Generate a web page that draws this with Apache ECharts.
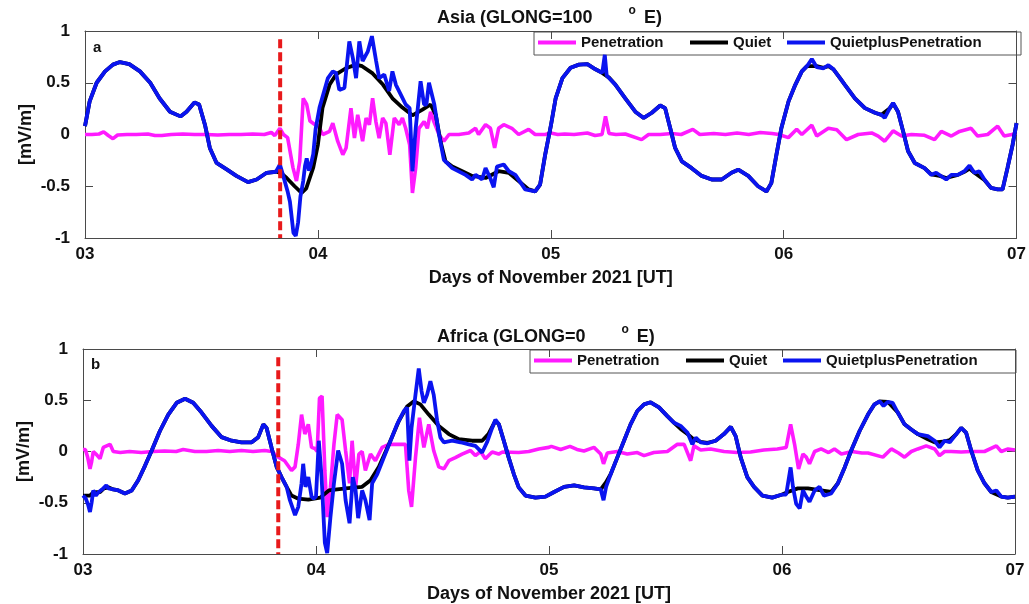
<!DOCTYPE html>
<html>
<head>
<meta charset="utf-8">
<script src="https://cdn.jsdelivr.net/npm/echarts@6/dist/echarts.min.js"></script>
<style>
html,body{margin:0;padding:0;background:#fff;}
#chart{width:1029px;height:604px;}
</style>
</head>
<body>
<div id="chart"></div>
<script>
// ---------------- DATA ----------------
const tickLabels = ['03', '04', '05', '06', '07'];
const seriesNames = ['Penetration', 'Quiet', 'QuietplusPenetration'];
const onsetDay = 3.838;
const onsetTop = 0.92;

// Panel a: Asia (GLONG=100 E)
const asiaPenetration = [[3.0,0.0],[3.03,0.0],[3.06,0.005],[3.08,0.025],[3.1,-0.01],[3.12,-0.04],[3.14,-0.005],[3.18,0.0],[3.22,0.0],[3.27,0.005],[3.3,-0.01],[3.33,-0.01],[3.37,0.0],[3.42,0.005],[3.47,0.0],[3.52,0.0],[3.57,-0.005],[3.62,0.0],[3.67,0.0],[3.72,0.005],[3.77,0.0],[3.80,0.02],[3.815,-0.01],[3.837,0.06],[3.852,0.0],[3.87,-0.03],[3.893,-0.32],[3.908,-0.45],[3.922,-0.26],[3.937,0.35],[3.952,0.29],[3.966,0.13],[3.988,0.095],[4.0,0.09],[4.021,0.0],[4.05,0.03],[4.064,0.11],[4.085,-0.065],[4.107,-0.195],[4.121,-0.13],[4.142,0.255],[4.157,-0.035],[4.171,0.19],[4.192,-0.065],[4.207,0.16],[4.221,0.095],[4.235,0.35],[4.249,0.125],[4.263,-0.035],[4.278,0.16],[4.292,0.11],[4.309,-0.195],[4.328,0.16],[4.349,0.095],[4.363,0.16],[4.377,0.06],[4.394,-0.1],[4.406,-0.565],[4.42,-0.325],[4.434,0.06],[4.456,0.125],[4.47,0.06],[4.484,0.22],[4.498,0.125],[4.52,0.0],[4.541,-0.065],[4.563,0.0],[4.605,0.0],[4.648,0.015],[4.677,0.06],[4.69,0.0],[4.72,0.095],[4.741,0.06],[4.759,-0.13],[4.776,0.06],[4.798,0.095],[4.833,0.06],[4.862,0.0],[4.905,0.05],[4.933,0.0],[4.976,0.0],[5.0,0.015],[5.03,0.0],[5.06,0.005],[5.1,0.0],[5.157,0.015],[5.19,-0.01],[5.22,0.0],[5.235,0.175],[5.25,0.01],[5.28,0.0],[5.32,0.005],[5.39,-0.05],[5.42,0.0],[5.47,0.0],[5.52,0.01],[5.56,0.0],[5.61,0.05],[5.64,0.0],[5.7,0.01],[5.75,0.0],[5.8,0.015],[5.85,0.0],[5.9,0.02],[5.95,0.01],[5.98,0.0],[6.02,-0.03],[6.056,0.05],[6.078,0.0],[6.121,0.09],[6.142,-0.015],[6.192,0.06],[6.228,0.045],[6.27,-0.05],[6.32,0.0],[6.378,0.015],[6.406,-0.015],[6.434,-0.065],[6.47,0.035],[6.506,-0.015],[6.549,0.0],[6.605,-0.008],[6.648,-0.05],[6.677,0.03],[6.72,-0.015],[6.755,0.03],[6.805,0.06],[6.833,-0.015],[6.876,0.0],[6.919,0.08],[6.947,-0.015],[6.98,0.0],[7.0,0.015]];

const asiaQuiet = [[3.0,0.08],[3.02,0.32],[3.05,0.50],[3.086,0.61],[3.12,0.675],[3.15,0.70],[3.19,0.68],[3.236,0.61],[3.28,0.50],[3.32,0.35],[3.365,0.22],[3.41,0.175],[3.436,0.22],[3.47,0.31],[3.49,0.29],[3.515,0.095],[3.536,-0.13],[3.565,-0.275],[3.61,-0.34],[3.65,-0.40],[3.70,-0.46],[3.737,-0.435],[3.78,-0.37],[3.82,-0.36],[3.84,-0.37],[3.866,-0.42],[3.90,-0.50],[3.93,-0.565],[3.95,-0.52],[3.98,-0.32],[4.0,-0.1],[4.02,0.26],[4.05,0.48],[4.078,0.58],[4.12,0.64],[4.164,0.675],[4.19,0.66],[4.235,0.59],[4.28,0.48],[4.32,0.35],[4.363,0.26],[4.406,0.185],[4.449,0.24],[4.484,0.29],[4.506,0.19],[4.527,-0.07],[4.548,-0.26],[4.577,-0.31],[4.62,-0.355],[4.662,-0.40],[4.72,-0.42],[4.776,-0.355],[4.82,-0.37],[4.862,-0.45],[4.905,-0.53],[4.933,-0.55],[4.954,-0.485],[4.976,-0.195],[5.0,0.08],[5.021,0.35],[5.05,0.545],[5.085,0.645],[5.121,0.675],[5.157,0.68],[5.192,0.63],[5.221,0.595],[5.25,0.55],[5.278,0.48],[5.32,0.35],[5.363,0.22],[5.399,0.16],[5.434,0.21],[5.47,0.28],[5.491,0.255],[5.513,0.06],[5.534,-0.13],[5.563,-0.26],[5.605,-0.325],[5.648,-0.40],[5.691,-0.435],[5.734,-0.435],[5.776,-0.37],[5.805,-0.34],[5.848,-0.40],[5.89,-0.50],[5.926,-0.55],[5.947,-0.47],[5.969,-0.195],[5.99,0.06],[6.021,0.32],[6.05,0.48],[6.078,0.61],[6.1,0.66],[6.142,0.66],[6.171,0.645],[6.192,0.66],[6.214,0.63],[6.242,0.545],[6.263,0.48],[6.306,0.35],[6.349,0.255],[6.392,0.21],[6.42,0.19],[6.456,0.255],[6.47,0.30],[6.491,0.22],[6.513,0.03],[6.534,-0.16],[6.563,-0.275],[6.605,-0.325],[6.634,-0.385],[6.67,-0.40],[6.698,-0.42],[6.748,-0.39],[6.776,-0.36],[6.798,-0.33],[6.819,-0.37],[6.862,-0.44],[6.89,-0.515],[6.919,-0.53],[6.94,-0.53],[6.961,-0.325],[6.983,-0.1],[7.0,0.11]];

const asiaQuietPlusPen = [[3.0,0.08],[3.02,0.32],[3.05,0.50],[3.086,0.61],[3.12,0.675],[3.15,0.70],[3.19,0.68],[3.236,0.61],[3.28,0.50],[3.32,0.35],[3.365,0.22],[3.41,0.175],[3.436,0.22],[3.47,0.31],[3.49,0.29],[3.515,0.095],[3.536,-0.13],[3.565,-0.275],[3.61,-0.34],[3.65,-0.40],[3.70,-0.46],[3.737,-0.435],[3.78,-0.37],[3.82,-0.36],[3.837,-0.29],[3.85,-0.39],[3.87,-0.55],[3.88,-0.65],[3.895,-0.95],[3.905,-0.98],[3.915,-0.85],[3.925,-0.6],[3.937,-0.45],[3.945,-0.3],[3.952,-0.23],[3.962,-0.35],[3.97,-0.29],[3.98,-0.19],[3.99,0.05],[4.007,0.26],[4.043,0.545],[4.064,0.61],[4.078,0.595],[4.092,0.43],[4.114,0.45],[4.135,0.90],[4.15,0.74],[4.164,0.545],[4.178,0.90],[4.192,0.71],[4.214,0.80],[4.232,0.95],[4.25,0.71],[4.263,0.545],[4.285,0.58],[4.306,0.42],[4.32,0.61],[4.335,0.48],[4.356,0.385],[4.377,0.29],[4.394,0.255],[4.406,-0.355],[4.42,0.06],[4.441,0.515],[4.456,0.29],[4.466,0.29],[4.477,0.50],[4.5,0.29],[4.52,0.0],[4.541,-0.245],[4.577,-0.325],[4.634,-0.39],[4.662,-0.435],[4.677,-0.39],[4.705,-0.435],[4.72,-0.325],[4.74,-0.42],[4.755,-0.51],[4.769,-0.31],[4.798,-0.29],[4.82,-0.355],[4.848,-0.39],[4.89,-0.53],[4.933,-0.55],[4.954,-0.485],[4.976,-0.195],[5.0,0.08],[5.021,0.35],[5.05,0.545],[5.085,0.645],[5.121,0.675],[5.157,0.68],[5.192,0.63],[5.221,0.595],[5.232,0.77],[5.24,0.57],[5.278,0.48],[5.32,0.35],[5.363,0.22],[5.399,0.16],[5.434,0.21],[5.47,0.28],[5.491,0.255],[5.513,0.06],[5.534,-0.13],[5.563,-0.26],[5.605,-0.325],[5.648,-0.40],[5.691,-0.435],[5.734,-0.435],[5.776,-0.37],[5.805,-0.34],[5.848,-0.40],[5.89,-0.50],[5.926,-0.55],[5.947,-0.47],[5.969,-0.195],[5.99,0.06],[6.021,0.32],[6.05,0.48],[6.078,0.61],[6.1,0.66],[6.121,0.73],[6.142,0.65],[6.171,0.64],[6.192,0.67],[6.214,0.63],[6.242,0.545],[6.263,0.48],[6.306,0.35],[6.349,0.255],[6.392,0.21],[6.42,0.19],[6.434,0.16],[6.456,0.255],[6.47,0.305],[6.491,0.22],[6.513,0.03],[6.534,-0.16],[6.563,-0.275],[6.605,-0.325],[6.634,-0.39],[6.655,-0.37],[6.698,-0.435],[6.72,-0.39],[6.748,-0.39],[6.776,-0.355],[6.798,-0.30],[6.819,-0.37],[6.84,-0.355],[6.862,-0.435],[6.89,-0.515],[6.919,-0.53],[6.94,-0.53],[6.961,-0.325],[6.983,-0.1],[7.0,0.11]];

// Panel b: Africa (GLONG=0 E)
const africaPenetration = [[3.0,0.02],[3.01,0.02],[3.02,-0.055],[3.03,-0.17],[3.037,-0.1],[3.044,0.0],[3.058,-0.03],[3.073,-0.07],[3.087,0.04],[3.116,0.07],[3.13,0.0],[3.16,-0.01],[3.2,0.0],[3.25,-0.01],[3.3,0.0],[3.35,0.005],[3.4,0.0],[3.43,0.02],[3.48,0.0],[3.53,0.0],[3.58,0.01],[3.63,0.0],[3.68,0.01],[3.73,0.0],[3.78,0.01],[3.81,0.0],[3.838,-0.055],[3.865,-0.09],[3.895,-0.185],[3.91,-0.15],[3.924,0.07],[3.938,0.36],[3.952,0.17],[3.967,0.265],[3.981,0.04],[3.995,0.03],[4.005,0.0],[4.015,0.52],[4.026,0.54],[4.038,-0.185],[4.048,-0.64],[4.062,-0.35],[4.077,0.07],[4.091,0.36],[4.112,0.31],[4.127,0.01],[4.144,-0.31],[4.155,0.105],[4.17,-0.35],[4.184,-0.025],[4.198,0.0],[4.212,-0.185],[4.234,-0.025],[4.255,-0.09],[4.284,0.04],[4.313,0.07],[4.356,0.07],[4.384,0.07],[4.398,-0.38],[4.41,-0.54],[4.427,-0.06],[4.444,0.33],[4.463,0.04],[4.484,0.265],[4.505,0.01],[4.527,-0.15],[4.549,-0.17],[4.57,-0.09],[4.598,-0.06],[4.627,-0.025],[4.663,0.01],[4.684,-0.04],[4.706,0.0],[4.727,-0.07],[4.756,-0.005],[4.784,-0.025],[4.8,-0.005],[4.87,-0.01],[4.913,0.0],[4.956,0.025],[4.999,0.04],[5.01,0.05],[5.05,0.02],[5.09,0.05],[5.12,0.02],[5.15,0.005],[5.193,0.04],[5.222,-0.025],[5.234,-0.12],[5.25,-0.015],[5.293,0.0],[5.336,-0.025],[5.379,-0.01],[5.408,-0.04],[5.45,-0.01],[5.508,0.0],[5.551,0.07],[5.58,0.07],[5.608,-0.09],[5.622,0.055],[5.651,0.015],[5.694,0.025],[5.751,0.0],[5.808,-0.01],[5.865,-0.005],[5.922,0.015],[5.98,0.025],[6.018,0.04],[6.037,0.265],[6.054,0.07],[6.071,-0.17],[6.09,-0.025],[6.104,-0.055],[6.118,-0.12],[6.14,0.0],[6.168,0.025],[6.2,-0.01],[6.225,0.025],[6.255,-0.025],[6.3,0.0],[6.343,-0.015],[6.369,-0.015],[6.433,-0.055],[6.469,0.025],[6.5,-0.015],[6.526,-0.055],[6.555,0.0],[6.583,0.025],[6.619,0.055],[6.655,0.025],[6.676,-0.04],[6.698,0.0],[6.726,0.0],[6.769,-0.005],[6.812,0.0],[6.869,0.0],[6.92,0.055],[6.941,0.0],[6.97,0.025],[7.0,0.015]];

const africaQuiet = [[3.0,-0.43],[3.03,-0.43],[3.044,-0.40],[3.073,-0.395],[3.09,-0.36],[3.109,-0.35],[3.13,-0.37],[3.152,-0.38],[3.18,-0.41],[3.209,-0.38],[3.237,-0.28],[3.266,-0.14],[3.295,0.01],[3.33,0.20],[3.366,0.36],[3.402,0.475],[3.438,0.515],[3.473,0.475],[3.509,0.38],[3.552,0.25],[3.595,0.14],[3.638,0.105],[3.68,0.09],[3.724,0.09],[3.752,0.14],[3.774,0.265],[3.788,0.23],[3.809,0.04],[3.831,-0.15],[3.852,-0.25],[3.874,-0.345],[3.895,-0.43],[3.924,-0.46],[3.967,-0.47],[4.018,-0.45],[4.055,-0.38],[4.127,-0.36],[4.198,-0.345],[4.234,-0.28],[4.27,-0.15],[4.313,0.07],[4.356,0.30],[4.391,0.44],[4.42,0.49],[4.448,0.46],[4.484,0.36],[4.527,0.25],[4.57,0.17],[4.613,0.12],[4.67,0.105],[4.713,0.105],[4.74,0.17],[4.77,0.30],[4.785,0.265],[4.806,0.105],[4.827,-0.06],[4.849,-0.22],[4.87,-0.35],[4.899,-0.43],[4.942,-0.45],[4.985,-0.44],[5.022,-0.395],[5.065,-0.345],[5.108,-0.33],[5.15,-0.35],[5.193,-0.36],[5.222,-0.37],[5.245,-0.3],[5.265,-0.22],[5.293,-0.06],[5.322,0.105],[5.35,0.265],[5.379,0.395],[5.408,0.46],[5.436,0.48],[5.472,0.43],[5.508,0.345],[5.537,0.28],[5.565,0.22],[5.594,0.17],[5.62,0.12],[5.651,0.095],[5.68,0.085],[5.715,0.105],[5.751,0.17],[5.78,0.24],[5.801,0.15],[5.823,-0.06],[5.851,-0.25],[5.88,-0.345],[5.916,-0.43],[5.958,-0.45],[6.001,-0.42],[6.025,-0.395],[6.068,-0.36],[6.111,-0.36],[6.168,-0.38],[6.211,-0.395],[6.24,-0.31],[6.269,-0.155],[6.297,0.01],[6.333,0.20],[6.369,0.36],[6.397,0.46],[6.419,0.49],[6.454,0.485],[6.497,0.38],[6.526,0.265],[6.555,0.215],[6.583,0.17],[6.626,0.12],[6.655,0.09],[6.69,0.095],[6.72,0.11],[6.748,0.17],[6.769,0.23],[6.79,0.185],[6.812,0.01],[6.84,-0.185],[6.869,-0.31],[6.898,-0.395],[6.941,-0.44],[6.969,-0.45],[7.0,-0.44]];

const africaQuietPlusPen = [[3.0,-0.43],[3.012,-0.46],[3.022,-0.52],[3.03,-0.59],[3.037,-0.5],[3.044,-0.38],[3.055,-0.43],[3.065,-0.40],[3.073,-0.395],[3.087,-0.36],[3.1,-0.33],[3.109,-0.36],[3.13,-0.37],[3.152,-0.38],[3.18,-0.41],[3.209,-0.38],[3.237,-0.28],[3.266,-0.14],[3.295,0.01],[3.33,0.20],[3.366,0.36],[3.402,0.475],[3.438,0.515],[3.473,0.475],[3.509,0.38],[3.552,0.25],[3.595,0.14],[3.638,0.105],[3.68,0.09],[3.724,0.09],[3.752,0.14],[3.774,0.265],[3.788,0.23],[3.809,0.04],[3.831,-0.15],[3.852,-0.25],[3.874,-0.345],[3.888,-0.475],[3.91,-0.62],[3.924,-0.54],[3.938,-0.31],[3.945,-0.12],[3.955,-0.345],[3.967,-0.25],[3.981,-0.44],[3.99,-0.46],[4.0,-0.44],[4.012,0.105],[4.024,-0.25],[4.038,-0.89],[4.048,-0.99],[4.062,-0.64],[4.077,-0.31],[4.095,0.01],[4.112,-0.12],[4.127,-0.475],[4.144,-0.70],[4.158,-0.25],[4.17,-0.38],[4.181,-0.65],[4.198,-0.38],[4.212,-0.475],[4.23,-0.67],[4.241,-0.31],[4.263,-0.22],[4.291,-0.06],[4.32,0.105],[4.348,0.265],[4.377,0.395],[4.391,0.43],[4.401,-0.09],[4.41,0.23],[4.427,0.555],[4.441,0.81],[4.453,0.59],[4.463,0.475],[4.477,0.555],[4.491,0.685],[4.505,0.555],[4.52,0.30],[4.534,0.135],[4.549,0.09],[4.584,0.105],[4.62,0.09],[4.656,0.07],[4.684,0.055],[4.713,-0.01],[4.734,0.09],[4.756,0.23],[4.77,0.31],[4.785,0.265],[4.806,0.105],[4.827,-0.06],[4.849,-0.22],[4.87,-0.35],[4.899,-0.43],[4.942,-0.45],[4.985,-0.44],[5.022,-0.395],[5.065,-0.345],[5.108,-0.33],[5.15,-0.35],[5.193,-0.36],[5.222,-0.37],[5.234,-0.475],[5.245,-0.345],[5.265,-0.22],[5.293,-0.06],[5.322,0.105],[5.35,0.265],[5.379,0.395],[5.408,0.46],[5.436,0.48],[5.472,0.43],[5.508,0.345],[5.537,0.28],[5.565,0.25],[5.594,0.185],[5.615,0.07],[5.63,0.135],[5.651,0.09],[5.68,0.08],[5.715,0.105],[5.751,0.17],[5.78,0.24],[5.801,0.15],[5.823,-0.06],[5.851,-0.25],[5.88,-0.345],[5.916,-0.43],[5.958,-0.45],[6.001,-0.42],[6.018,-0.42],[6.037,-0.155],[6.047,-0.345],[6.061,-0.51],[6.076,-0.555],[6.09,-0.38],[6.104,-0.44],[6.118,-0.49],[6.14,-0.38],[6.161,-0.345],[6.18,-0.43],[6.211,-0.41],[6.24,-0.31],[6.269,-0.155],[6.297,0.01],[6.333,0.20],[6.369,0.36],[6.397,0.46],[6.419,0.49],[6.436,0.445],[6.454,0.485],[6.475,0.475],[6.497,0.38],[6.526,0.265],[6.555,0.215],[6.583,0.17],[6.626,0.15],[6.655,0.105],[6.676,0.04],[6.698,0.105],[6.72,0.09],[6.748,0.17],[6.769,0.23],[6.79,0.185],[6.812,0.01],[6.84,-0.185],[6.869,-0.31],[6.898,-0.395],[6.92,-0.38],[6.941,-0.44],[6.969,-0.45],[7.0,-0.44]];

// ---------------- CHART ----------------
const FONT = 'Liberation Sans, Arial, Helvetica, sans-serif';
const COLORS = { pen: '#ff1aff', quiet: '#000000', qpp: '#0a14f0', onset: '#e8191b' };
const AXIS_COLOR = '#4a4a4a';

const grids = [
  { left: 85, right: 8, top: 31, height: 207 },
  { left: 83, right: 14, top: 349, height: 207 }
];

function xAxes(gi) {
  return [
    {
      type: 'value', gridIndex: gi, min: 3, max: 7, interval: 1, position: 'bottom',
      name: 'Days of November 2021 [UT]', nameLocation: 'middle', nameGap: 31, nameMoveOverlap: false,
      nameTextStyle: { fontFamily: FONT, fontSize: 18, fontWeight: 'bold', color: '#111' },
      axisLine: { show: true, onZero: false, lineStyle: { color: AXIS_COLOR, width: 1 } },
      axisTick: { show: true, inside: true, length: 8, lineStyle: { color: AXIS_COLOR } },
      axisLabel: { margin: 8, fontFamily: FONT, fontSize: 17, fontWeight: 'bold', color: '#111',
        formatter: v => tickLabels[Math.round(v - 3)] },
      splitLine: { show: false }
    },
    {
      type: 'value', gridIndex: gi, min: 3, max: 7, interval: 1, position: 'top',
      axisLine: { show: true, onZero: false, lineStyle: { color: AXIS_COLOR, width: 1 } },
      axisTick: { show: true, inside: true, length: 8, lineStyle: { color: AXIS_COLOR } },
      axisLabel: { show: false }, splitLine: { show: false }
    }
  ];
}
function yAxes(gi) {
  return [
    {
      type: 'value', gridIndex: gi, min: -1, max: 1, interval: 0.5, position: 'left',
      name: '[mV/m]', nameLocation: 'middle', nameGap: 50, nameRotate: 90, nameMoveOverlap: false,
      nameTextStyle: { fontFamily: FONT, fontSize: 18, fontWeight: 'bold', color: '#111' },
      axisLine: { show: true, onZero: false, lineStyle: { color: AXIS_COLOR, width: 1 } },
      axisTick: { show: true, inside: true, length: 8, lineStyle: { color: AXIS_COLOR } },
      axisLabel: { margin: 15, fontFamily: FONT, fontSize: 17, fontWeight: 'bold', color: '#111' },
      splitLine: { show: false }
    },
    {
      type: 'value', gridIndex: gi, min: -1, max: 1, interval: 0.5, position: 'right',
      axisLine: { show: true, onZero: false, lineStyle: { color: AXIS_COLOR, width: 1 } },
      axisTick: { show: true, inside: true, length: 8, lineStyle: { color: AXIS_COLOR } },
      axisLabel: { show: false }, splitLine: { show: false }
    }
  ];
}

function panelSeries(gi, pen, quiet, qpp) {
  const xi = gi * 2, yi = gi * 2;
  const base = { type: 'line', xAxisIndex: xi, yAxisIndex: yi, symbol: 'none', showSymbol: false, animation: false, z: 2 };
  return [
    Object.assign({}, base, { name: seriesNames[0], data: pen, lineStyle: { color: COLORS.pen, width: 3.6 }, itemStyle: { color: COLORS.pen } }),
    Object.assign({}, base, { name: seriesNames[1], data: quiet, lineStyle: { color: COLORS.quiet, width: 3.8 }, itemStyle: { color: COLORS.quiet } }),
    Object.assign({}, base, { name: seriesNames[2], data: qpp, lineStyle: { color: COLORS.qpp, width: 3.8 }, itemStyle: { color: COLORS.qpp } }),
    Object.assign({}, base, { name: 'onset', data: [[onsetDay, onsetTop], [onsetDay, -1]], z: 3,
      lineStyle: { color: COLORS.onset, width: 4, type: [9, 4] }, itemStyle: { color: COLORS.onset } })
  ];
}

const legendText = { fontFamily: FONT, fontSize: 15, fontWeight: 'bold', color: '#111' };
// one legend component per entry (MATLAB-like uneven spacing); offsets are layout only
const legendOffsets = [5, 157, 254];
function legendsFor(boxLeft, top) {
  return seriesNames.map((name, i) => ({
    left: boxLeft + legendOffsets[i], top: top + 4, orient: 'horizontal',
    icon: 'rect', itemWidth: 38, itemHeight: 4, itemGap: 0, padding: 0,
    textStyle: legendText, data: [name], selectedMode: false
  }));
}
function legendBox(left, top, width) {
  return {
    type: 'rect', left: left, top: top, z: 0,
    shape: { width: width, height: 23 },
    style: { fill: '#fff', stroke: '#555', lineWidth: 1 }
  };
}

function titleRich(main) {
  return {
    text: '{n|' + main + '}{g|}{s|o}{n| E)}',
    textStyle: {
      rich: {
        n: { fontFamily: FONT, fontSize: 18, fontWeight: 'bold', color: '#111', lineHeight: 26 },
        g: { width: 36 },
        s: { fontFamily: FONT, fontSize: 12, fontWeight: 'bold', color: '#111', lineHeight: 12, verticalAlign: 'top', padding: [0, 3, 0, 0] }
      }
    }
  };
}

const option = {
  backgroundColor: '#fff',
  animation: false,
  title: [
    Object.assign({ left: 437, top: 5, padding: 0 }, titleRich('Asia (GLONG=100')),
    Object.assign({ left: 437, top: 324, padding: 0 }, titleRich('Africa (GLONG=0')),
    { text: 'a', left: 93, top: 40, padding: 0, textStyle: { fontFamily: FONT, fontSize: 15, fontWeight: 'bold', color: '#111' } },
    { text: 'b', left: 91, top: 357, padding: 0, textStyle: { fontFamily: FONT, fontSize: 15, fontWeight: 'bold', color: '#111' } }
  ],
  graphic: [legendBox(533.5, 31.5, 487), legendBox(529.5, 349.5, 486)],
  legend: legendsFor(533, 31).concat(legendsFor(529, 349)),
  grid: grids,
  xAxis: xAxes(0).concat(xAxes(1)),
  yAxis: yAxes(0).concat(yAxes(1)),
  series: panelSeries(0, asiaPenetration, asiaQuiet, asiaQuietPlusPen)
    .concat(panelSeries(1, africaPenetration, africaQuiet, africaQuietPlusPen))
};

const chart = echarts.init(document.getElementById('chart'), null, { renderer: 'canvas' });
chart.setOption(option);
</script>
</body>
</html>
